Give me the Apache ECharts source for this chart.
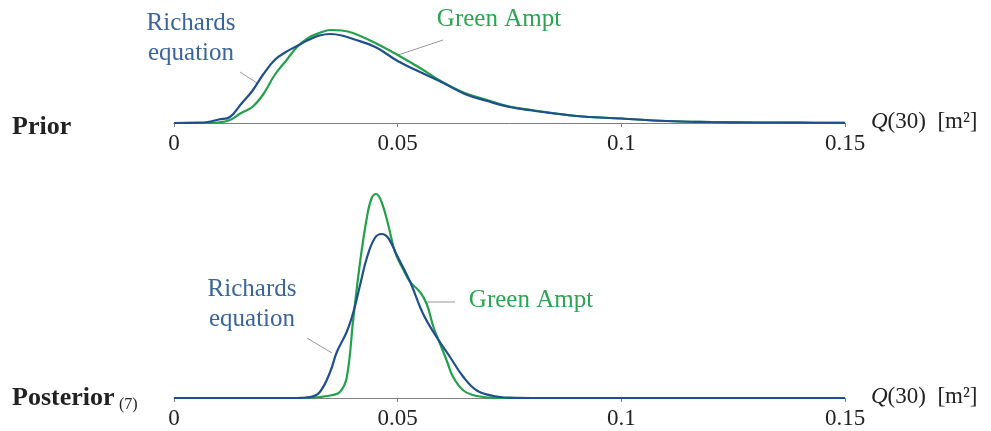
<!DOCTYPE html>
<html lang="en">
<head>
    <meta charset="UTF-8">
    <title>Q(30) prior / posterior</title>
    <style>
        html, body { margin: 0; padding: 0; background: #fff; }
        #chart { width: 991px; height: 431px; }
    </style>
    <script src="https://cdn.jsdelivr.net/npm/echarts@6/dist/echarts.min.js"></script>
</head>
<body>
    <div id="chart"></div>
    <script>
        // tick values shared by both axes
        var qTicks = [0, 0.05, 0.1, 0.15];

        // prior densities (arbitrary units)
        var priorQ = [0, 0.005, 0.0075, 0.01, 0.0125, 0.015, 0.0175, 0.02, 0.0225, 0.025, 0.0275, 0.03, 0.0325, 0.035, 0.0375, 0.04, 0.045, 0.05, 0.055, 0.06, 0.065, 0.07, 0.075, 0.08, 0.09, 0.1, 0.11, 0.12, 0.13, 0.14, 0.15];
        var priorRichards = [0, 0.3, 1, 3.5, 6, 19, 32, 49, 63, 71, 77, 83, 87.5, 89, 87.5, 84, 76, 62, 51, 40.5, 29, 22, 16, 12.5, 7, 4.5, 2, 1, 0.5, 0.3, 0.2];
        var priorGreenAmpt = [0, 0, 0, 0.5, 3, 10, 16, 29, 48, 62, 76, 85, 90, 93, 92.5, 90, 80, 68, 55, 41, 30, 23, 16.5, 13, 7, 4.5, 2, 1, 0.5, 0.3, 0.2];

        // posterior densities
        var postRichardsQ = [0, 0.026, 0.0285, 0.0304, 0.0326, 0.0349, 0.0364, 0.0386, 0.0401, 0.0416, 0.0431, 0.0449, 0.0464, 0.0479, 0.0498, 0.0528, 0.0557, 0.0587, 0.0617, 0.0647, 0.0677, 0.0714, 0.0751, 0.08, 0.15];
        var postRichards = [0, 0, 0.2, 0.8, 6, 26, 46, 66, 86, 113, 140, 160, 164, 160, 143, 116, 84, 61, 41, 21, 7.5, 2, 0.3, 0, 0];
        var postGreenQ = [0, 0.029, 0.0326, 0.0355, 0.0371, 0.0386, 0.0401, 0.0416, 0.0431, 0.0442, 0.0452, 0.0464, 0.0479, 0.0494, 0.0513, 0.0528, 0.055, 0.0565, 0.058, 0.0595, 0.061, 0.0624, 0.0647, 0.0677, 0.0729, 0.15];
        var postGreenAmpt = [0, 0, 1, 3, 6, 20, 80, 136, 180, 200, 204, 196, 173, 146, 128, 116, 106, 94, 71, 54, 37, 21, 7.5, 2, 0, 0];

        var BLUE = '#1f4f8d';
        var GREEN = '#22a04a';
        var BLUE_TXT = '#3a659c';
        var GREEN_TXT = '#2aa552';
        var SERIF = '"Liberation Serif", "DejaVu Serif", serif';

        function pairs(xs, ys) {
            return xs.map(function (x, i) { return [x, ys[i]]; });
        }

        function xAxisFor(idx) {
            return {
                gridIndex: idx,
                type: 'value',
                min: 0, max: 0.15, interval: 0.05,
                axisLine: { show: true, lineStyle: { color: '#808080', width: 1 } },
                axisTick: { show: true, length: 4, lineStyle: { color: '#808080' } },
                splitLine: { show: false },
                axisLabel: {
                    margin: 9, color: '#222', fontFamily: SERIF, fontSize: 23,
                    customValues: qTicks,
                    formatter: function (v) { return String(+v.toFixed(2)); }
                },
                name: '{q|Q}(30)  [m²]',
                nameLocation: 'end',
                nameGap: 26,
                nameTextStyle: {
                    color: '#222', fontFamily: SERIF, fontSize: 23,
                    verticalAlign: 'middle', padding: [0, 0, 3, 0],
                    rich: { q: { fontStyle: 'italic', fontFamily: SERIF, fontSize: 23, color: '#222' } }
                }
            };
        }

        function line(name, data, color, xi) {
            return {
                name: name, type: 'line', xAxisIndex: xi, yAxisIndex: xi,
                data: data, showSymbol: false, smooth: 0.4,
                lineStyle: { color: color, width: 2.2 }, silent: true
            };
        }

        function txt(s, x, y, color, size, opts) {
            opts = opts || {};
            return {
                type: 'text', silent: true,
                style: {
                    text: s, x: x, y: y, fill: color,
                    font: (opts.weight || 'normal') + ' ' + size + 'px ' + SERIF,
                    textAlign: opts.align || 'center', textVerticalAlign: 'middle'
                }
            };
        }

        function leader(x1, y1, x2, y2) {
            return {
                type: 'line', silent: true,
                shape: { x1: x1, y1: y1, x2: x2, y2: y2 },
                style: { stroke: '#999', lineWidth: 1 }
            };
        }

        var chart = echarts.init(document.getElementById('chart'), null, { renderer: 'canvas' });
        chart.setOption({
            animation: false,
            grid: [
                { left: 174, width: 671, top: 20, height: 103 },
                { left: 174, width: 671, top: 190, height: 208 }
            ],
            xAxis: [xAxisFor(0), xAxisFor(1)],
            yAxis: [
                { gridIndex: 0, type: 'value', min: 0, max: 103, show: false },
                { gridIndex: 1, type: 'value', min: 0, max: 208, show: false }
            ],
            series: [
                line('Green Ampt', pairs(priorQ, priorGreenAmpt), GREEN, 0),
                line('Richards equation', pairs(priorQ, priorRichards), BLUE, 0),
                line('Green Ampt', pairs(postGreenQ, postGreenAmpt), GREEN, 1),
                line('Richards equation', pairs(postRichardsQ, postRichards), BLUE, 1)
            ],
            graphic: [
                txt('Prior', 12, 127, '#222', 26, { weight: 'bold', align: 'left' }),
                txt('Posterior', 12, 398, '#222', 26, { weight: 'bold', align: 'left' }),
                txt('(7)', 119, 405, '#222', 16, { align: 'left' }),

                txt('Richards', 191, 23, BLUE_TXT, 25),
                txt('equation', 191, 53, BLUE_TXT, 25),
                leader(240, 72, 257, 83),
                txt('Green Ampt', 499, 19, GREEN_TXT, 25),
                leader(443, 40, 398, 55),

                txt('Richards', 252, 289, BLUE_TXT, 25),
                txt('equation', 252, 319, BLUE_TXT, 25),
                leader(307, 338, 332, 353),
                txt('Green Ampt', 531, 300, GREEN_TXT, 25),
                leader(427, 302, 455, 302)
            ]
        });
    </script>
</body>
</html>
